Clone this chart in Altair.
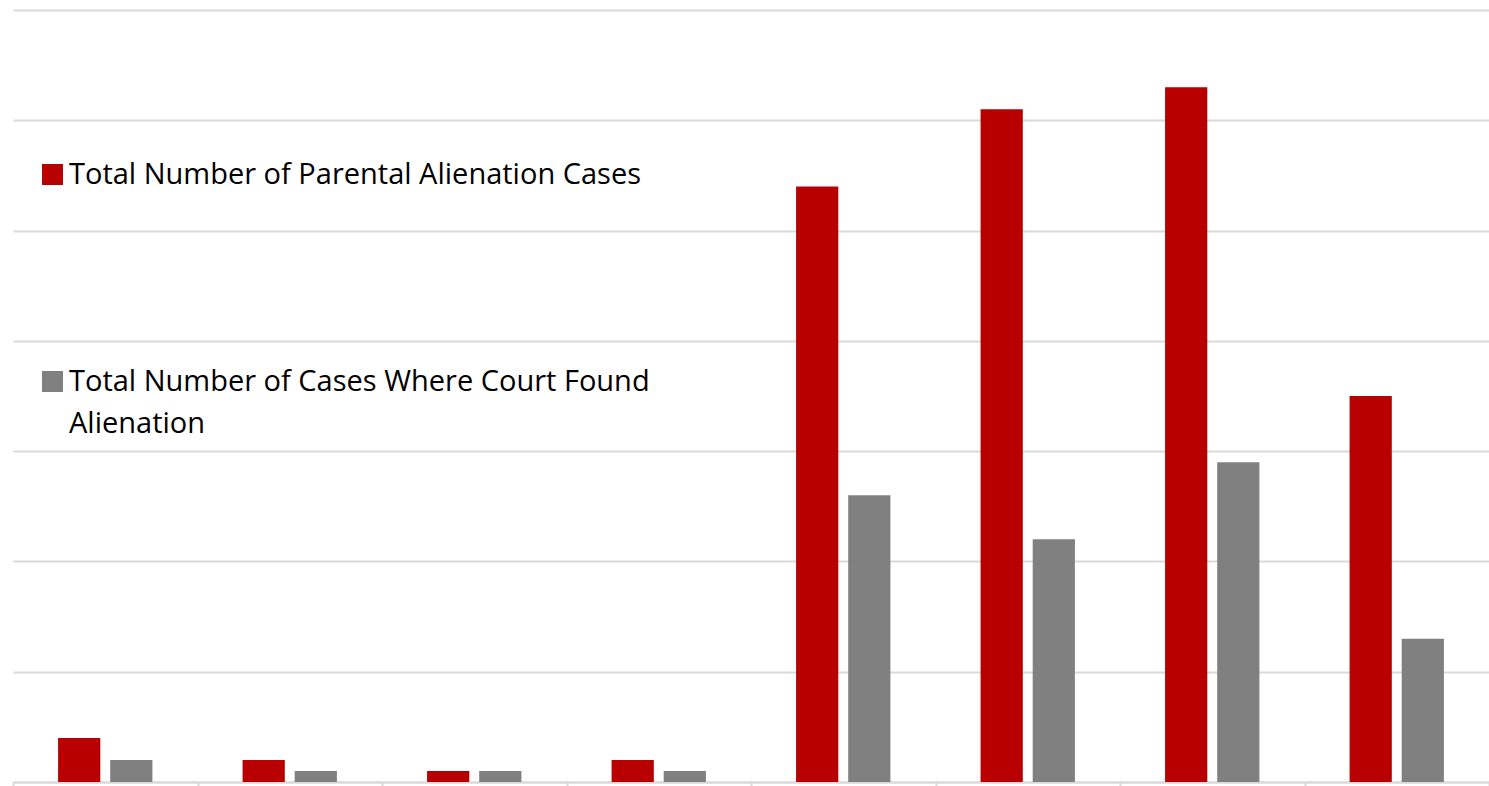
import altair as alt
import pandas as pd

# Case counts per group, two series
groups = ["G1", "G2", "G3", "G4", "G5", "G6", "G7", "G8"]
series = [
    "Total Number of Parental Alienation Cases",
    "Total Number of Cases Where Court Found Alienation",
]
total_cases = [4, 2, 1, 2, 54, 61, 63, 35]
found_cases = [2, 1, 1, 1, 26, 22, 29, 13]
colors = ["#B80000", "#808080"]

rows = []
for g, t, f in zip(groups, total_cases, found_cases):
    rows.append({"group": g, "series": series[0], "cases": t})
    rows.append({"group": g, "series": series[1], "cases": f})
df = pd.DataFrame(rows)

FONT = "Open Sans, sans-serif"
GRID = "#D9D9D9"

label_expr = (
    "datum.label == 'Total Number of Cases Where Court Found Alienation'"
    " ? ['Total Number of Cases Where Court Found', 'Alienation'] : datum.label"
)

chart = (
    alt.Chart(df)
    .mark_bar()
    .encode(
        x=alt.X(
            "group:N",
            sort=groups,
            title=None,
            scale=alt.Scale(paddingInner=0, paddingOuter=0),
            axis=alt.Axis(
                labels=False,
                ticks=True,
                tickBand="extent",
                tickSize=5,
                tickColor=GRID,
                tickWidth=2,
                domainColor=GRID,
                domainWidth=2,
                grid=False,
            ),
        ),
        xOffset=alt.XOffset(
            "series:N",
            sort=series,
            scale=alt.Scale(paddingInner=0.19, paddingOuter=0.865),
        ),
        y=alt.Y(
            "cases:Q",
            title=None,
            scale=alt.Scale(domain=[0, 70], nice=False),
            axis=alt.Axis(
                values=list(range(0, 71, 10)),
                labels=False,
                ticks=False,
                domain=False,
                grid=True,
                gridColor=GRID,
                gridWidth=2,
            ),
        ),
        color=alt.Color(
            "series:N",
            sort=series,
            scale=alt.Scale(domain=series, range=colors),
            legend=alt.Legend(
                title=None,
                orient="none",
                legendX=25,
                legendY=150,
                direction="vertical",
                padding=0,
                rowPadding=177,
                symbolType="square",
                symbolSize=441,
                symbolStrokeWidth=0,
                symbolOffset=0,
                labelFont=FONT,
                labelFontSize=29,
                labelColor="#000000",
                labelLimit=800,
                labelOffset=2,
                labelExpr=label_expr,
            ),
        ),
    )
    .properties(
        width=1476,
        height=772,
        padding={"left": 13, "top": 10, "right": 0, "bottom": 4},
        autosize=alt.AutoSizeParams(type="none"),
    )
    .configure(background="#FFFFFF", style={"guide-label": {"lineHeight": 42}})
    .configure_view(strokeWidth=0)
)

chart.save("out.html", embed_options={"renderer": "svg", "actions": False})
